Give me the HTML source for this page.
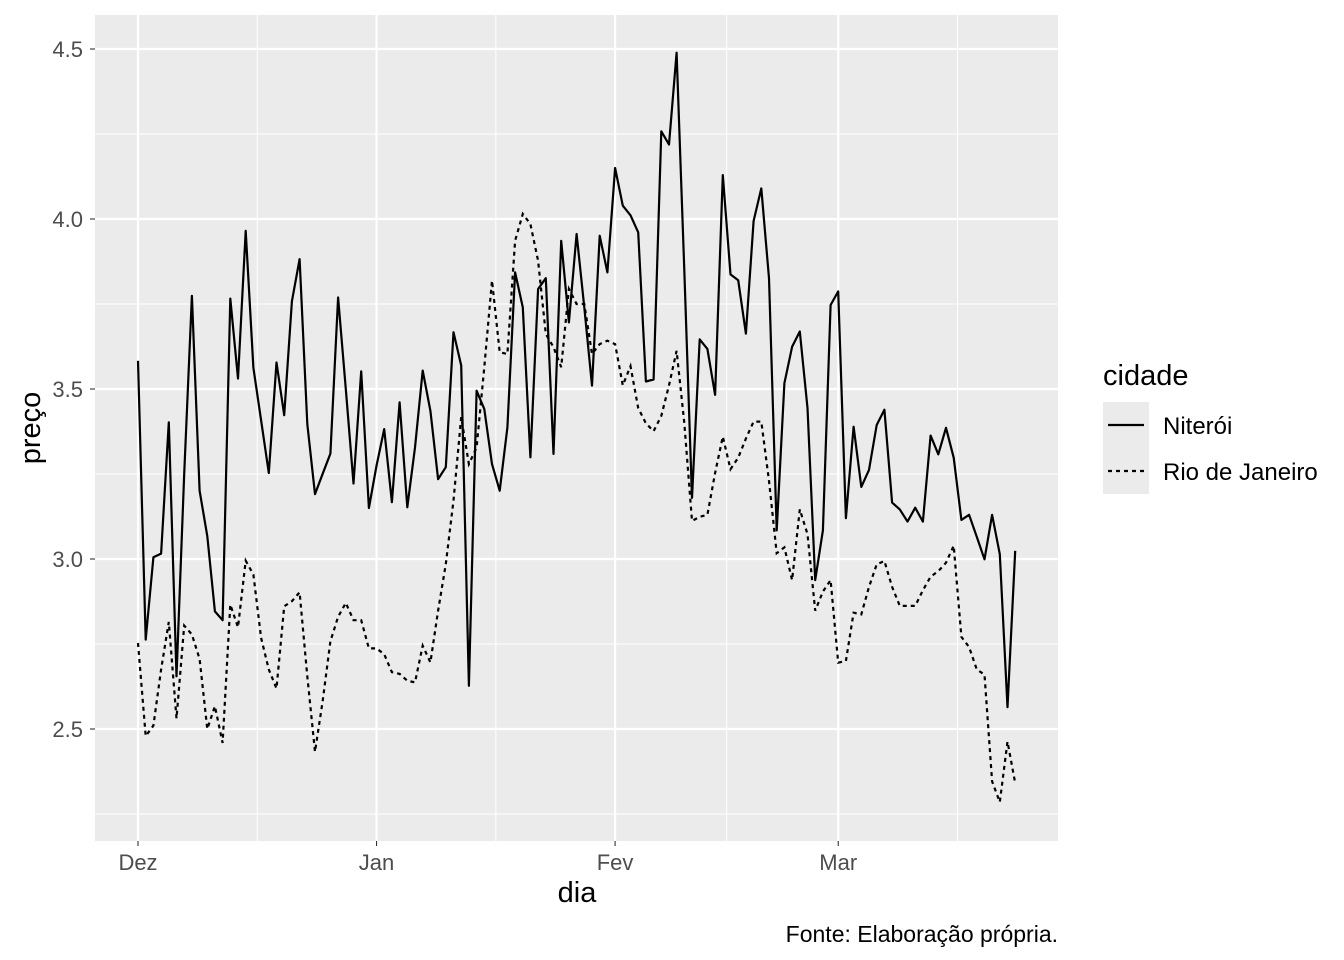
<!DOCTYPE html>
<html><head><meta charset="utf-8"><style>
body{margin:0;background:#fff;}
svg{display:block;font-family:"Liberation Sans",Arial,sans-serif;}
</style></head><body>
<svg id="chart" width="1344" height="960">
<rect x="95" y="15" width="963" height="826" fill="#ebebeb"/>
<g id="grid"></g>
<g id="lines"></g>
<g id="axes"></g>
<text x="577" y="902" font-size="29" text-anchor="middle" fill="#000">dia</text>
<text transform="translate(40,428) rotate(-90)" font-size="29" text-anchor="middle" fill="#000">preço</text>
<g>
<text x="1103" y="385" font-size="29">cidade</text>
<rect x="1103" y="402" width="46" height="92" fill="#ebebeb"/>
<line x1="1108" x2="1144" y1="425" y2="425" stroke="#000" stroke-width="2.2"/>
<line x1="1108" x2="1144" y1="471" y2="471" stroke="#000" stroke-width="2.2" stroke-dasharray="4,4"/>
<text x="1163" y="434" font-size="24">Niterói</text>
<text x="1163" y="480" font-size="24">Rio de Janeiro</text>
</g>
<text x="1058" y="942" font-size="23" text-anchor="end">Fonte: Elaboração própria.</text>
</svg>
<script>
const niteroi=[3.583,2.763,3.005,3.016,3.402,2.655,3.25,3.774,3.201,3.067,2.846,2.82,3.766,3.531,3.965,3.562,3.408,3.253,3.578,3.423,3.758,3.882,3.397,3.191,3.251,3.31,3.769,3.5,3.222,3.552,3.15,3.274,3.382,3.167,3.461,3.152,3.328,3.554,3.436,3.235,3.27,3.667,3.569,2.627,3.495,3.441,3.279,3.201,3.387,3.843,3.74,3.299,3.794,3.826,3.309,3.936,3.696,3.956,3.74,3.51,3.951,3.843,4.15,4.039,4.011,3.961,3.522,3.528,4.258,4.219,4.489,3.85,3.18,3.646,3.618,3.483,4.129,3.837,3.82,3.663,3.994,4.09,3.826,3.084,3.517,3.624,3.669,3.444,2.938,3.084,3.747,3.787,3.12,3.389,3.212,3.262,3.394,3.439,3.166,3.146,3.11,3.151,3.11,3.363,3.308,3.386,3.298,3.115,3.13,3.065,2.999,3.13,3.014,2.564,3.024];
const rio=[2.753,2.479,2.51,2.675,2.815,2.531,2.804,2.778,2.706,2.5,2.567,2.459,2.866,2.799,2.995,2.954,2.768,2.675,2.619,2.861,2.876,2.902,2.655,2.433,2.583,2.758,2.83,2.871,2.82,2.82,2.737,2.737,2.72,2.667,2.662,2.642,2.637,2.745,2.696,2.848,2.985,3.172,3.417,3.279,3.328,3.564,3.819,3.608,3.603,3.936,4.015,3.985,3.877,3.662,3.623,3.564,3.794,3.75,3.75,3.603,3.632,3.642,3.632,3.511,3.567,3.444,3.399,3.376,3.421,3.511,3.612,3.4,3.112,3.124,3.13,3.253,3.36,3.264,3.298,3.354,3.404,3.404,3.23,3.017,3.034,2.938,3.146,3.073,2.848,2.904,2.938,2.695,2.7,2.842,2.837,2.918,2.984,2.994,2.918,2.862,2.862,2.862,2.908,2.948,2.964,2.989,3.039,2.771,2.741,2.675,2.66,2.346,2.285,2.463,2.341];
const xTickLabels=["Dez","Jan","Fev","Mar"];
const xTickDays=[0,31,62,91];
const xMinorDays=[15.5,46.5,76.5,106.5];
const yTicks=[2.5,3.0,3.5,4.0,4.5];
const yMinor=[2.25,2.75,3.25,3.75,4.25];
const NS="http://www.w3.org/2000/svg";
const xs=d=>138+7.695*d;
const ys=v=>49+(4.5-v)*340;
function mk(tag,attrs,parent){const e=document.createElementNS(NS,tag);for(const k in attrs)e.setAttribute(k,attrs[k]);parent.appendChild(e);return e;}
const grid=document.getElementById('grid'),axes=document.getElementById('axes'),lines=document.getElementById('lines');
yMinor.forEach(v=>{const l=mk('line',{x1:95,x2:1058,y1:ys(v),y2:ys(v),stroke:'#fff','stroke-width':1},grid);

});
xMinorDays.forEach(d=>{const l=mk('line',{x1:xs(d),x2:xs(d),y1:15,y2:841,stroke:'#fff','stroke-width':1},grid);

});
yTicks.forEach(v=>{const l=mk('line',{x1:95,x2:1058,y1:ys(v),y2:ys(v),stroke:'#fff','stroke-width':2.2},grid);


const t=mk('line',{x1:90,x2:95,y1:ys(v),y2:ys(v),stroke:'#333','stroke-width':1.1},axes);


const tx=mk('text',{x:83,y:ys(v)+8,'font-size':22,'text-anchor':'end',fill:'#4d4d4d'},axes);tx.textContent=v.toFixed(1);

});
xTickDays.forEach((d,i)=>{const l=mk('line',{x1:xs(d),x2:xs(d),y1:15,y2:841,stroke:'#fff','stroke-width':2.2},grid);


const t=mk('line',{x1:xs(d),x2:xs(d),y1:841,y2:846,stroke:'#333','stroke-width':1.1},axes);


const tx=mk('text',{x:xs(d),y:870,'font-size':22,'text-anchor':'middle',fill:'#4d4d4d'},axes);tx.textContent=xTickLabels[i];

});
function pts(arr){return arr.map((v,i)=>xs(i).toFixed(1)+','+ys(v).toFixed(1)).join(' ');}
const pn=mk('polyline',{points:pts(niteroi),fill:'none',stroke:'#000','stroke-width':2.2,'stroke-linejoin':'round'},lines);


const pr=mk('polyline',{points:pts(rio),fill:'none',stroke:'#000','stroke-width':2.2,'stroke-dasharray':'4,4'},lines);


</script>
</body></html>
